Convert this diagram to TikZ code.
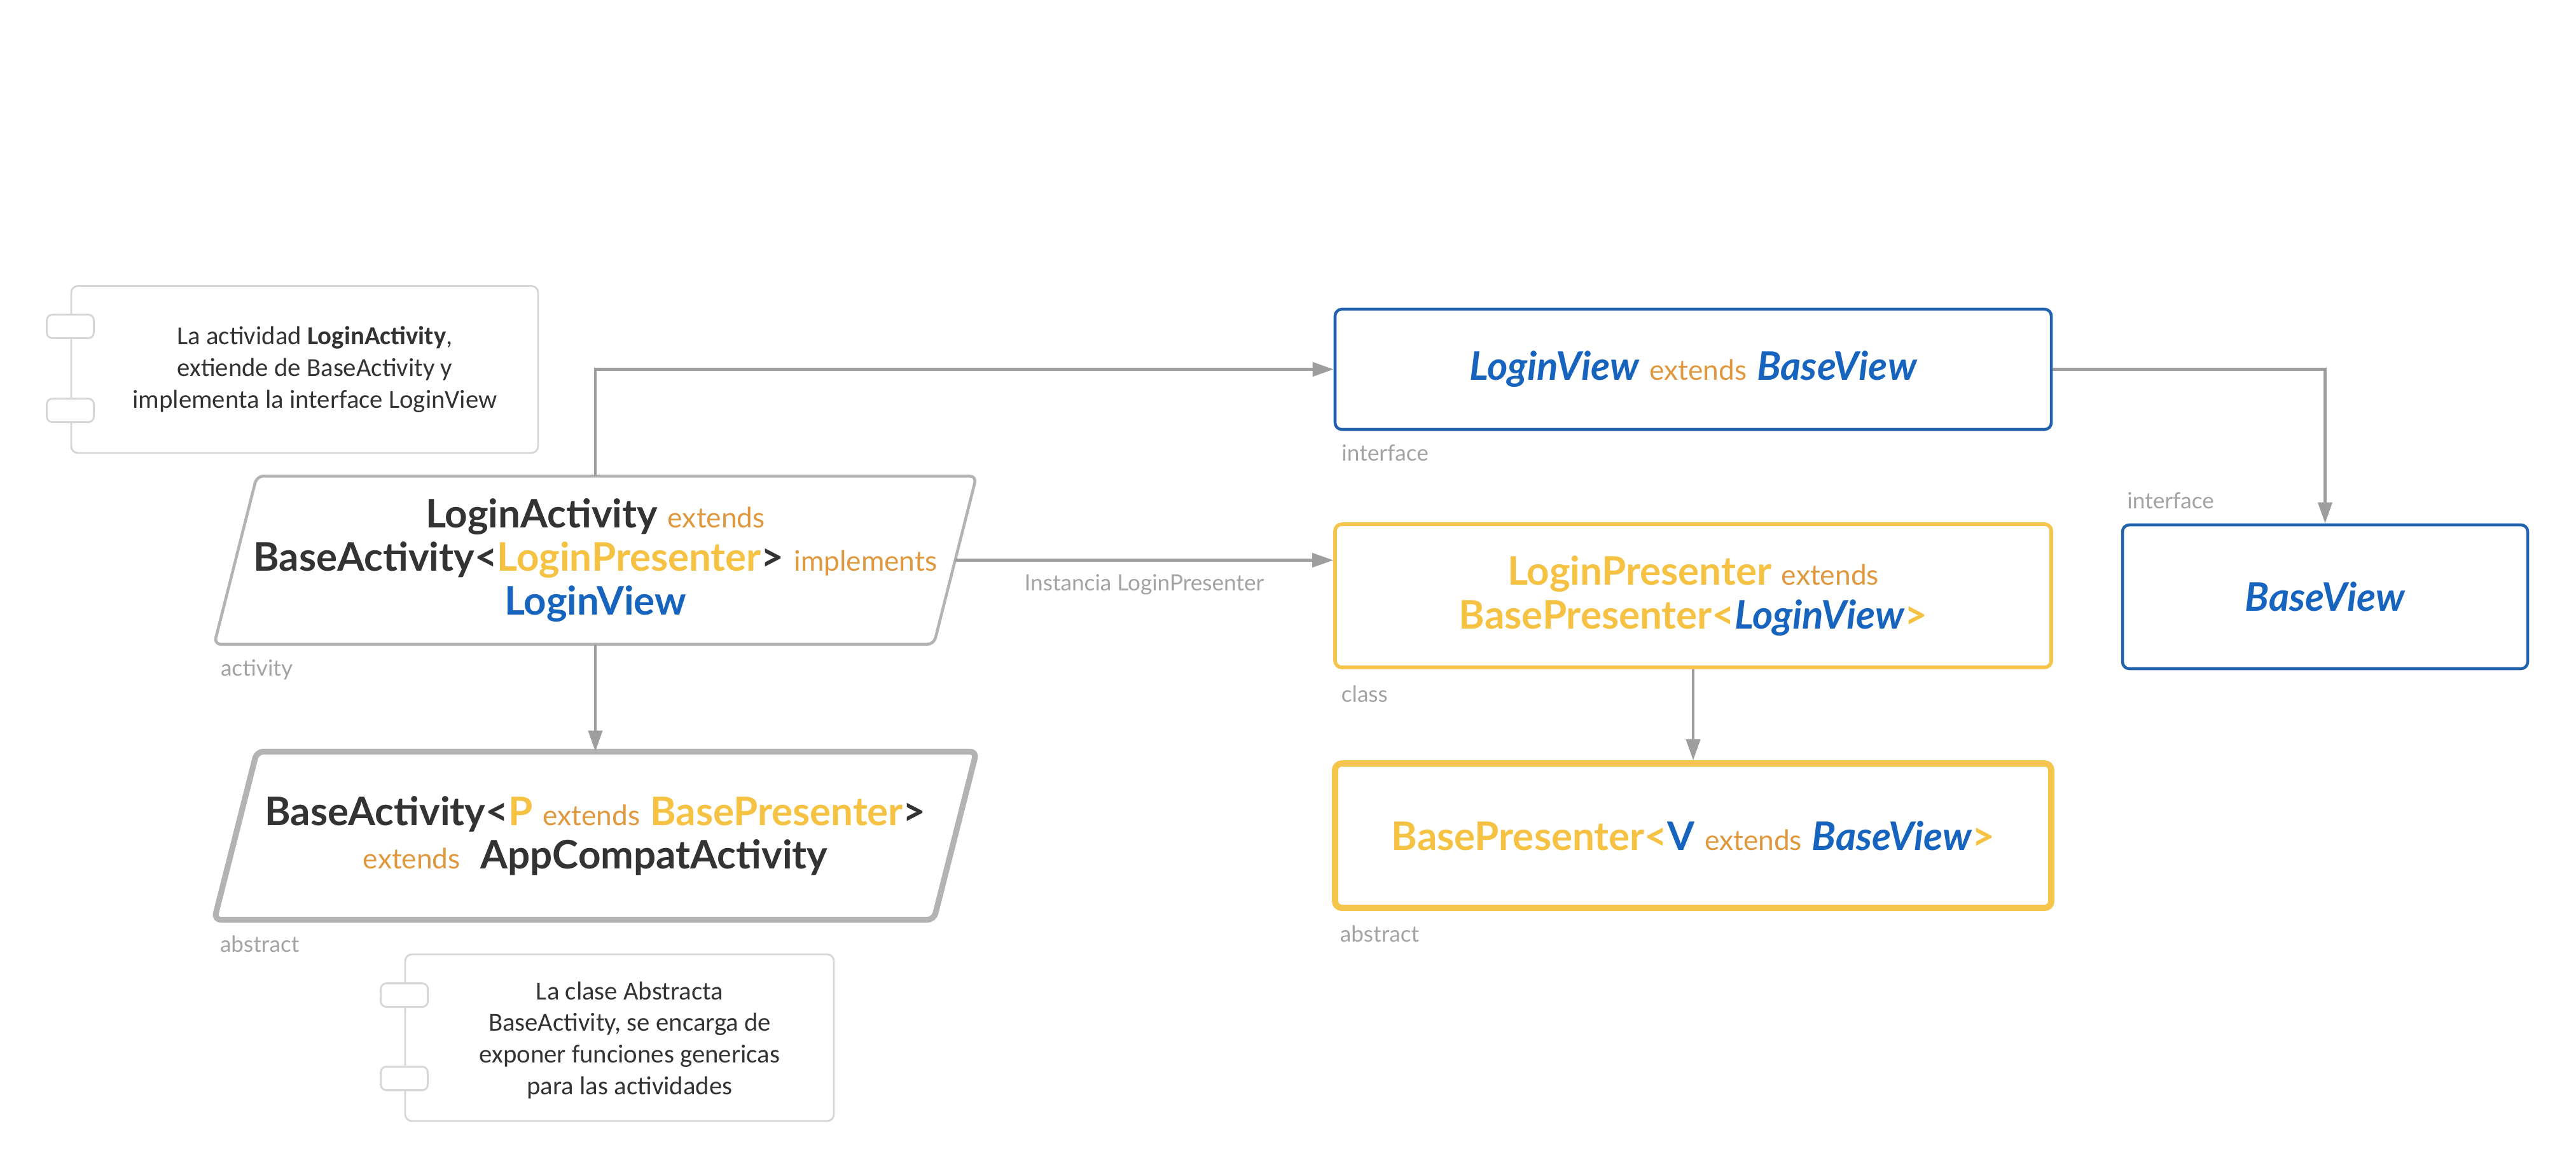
\documentclass[tikz,border=0pt]{standalone}
\usepackage{fontspec}
\setmainfont{Lato}
\newfontfamily\notefont{Carlito}
\usetikzlibrary{arrows.meta,positioning,calc}

\definecolor{txtdark}{HTML}{333333}
\definecolor{extorange}{HTML}{E0983E}
\definecolor{presyellow}{HTML}{F5C243}
\definecolor{viewblue}{HTML}{1764BE}
\definecolor{viewline}{HTML}{2062AD}
\definecolor{presline}{HTML}{F5C54C}
\definecolor{linegray}{HTML}{9E9E9E}
\definecolor{lblgray}{HTML}{A3A3A3}
\definecolor{paraline}{HTML}{B3B3B3}
\definecolor{noteline}{HTML}{D6D6D6}

\newcommand{\extw}[1]{{\color{extorange}\fontsize{12.6}{14}\selectfont #1}}
\newcommand{\darkw}[1]{{\color{txtdark}\bfseries #1}}
\newcommand{\presw}[1]{{\color{presyellow}\bfseries #1}}
\newcommand{\vieww}[1]{{\color{viewblue}\bfseries\itshape #1}}

\tikzset{
  bigtext/.style={font=\fontsize{17.6}{19.5}\selectfont, align=center, inner sep=0pt},
  paranode/.style={bigtext, minimum width=11.3cm, minimum height=2.63cm},
  actframe/.style={draw=paraline, line width=1.3pt, rounded corners=3pt},
  absframe/.style={draw=paraline, line width=2.6pt, rounded corners=3pt},
  viewbox/.style={bigtext, draw=viewline, line width=1.3pt, rounded corners=3pt},
  presbox/.style={bigtext, draw=presline, line width=1.6pt, rounded corners=3pt},
  basebox/.style={bigtext, draw=presline, line width=2.8pt, rounded corners=3pt},
  notebox/.style={draw=noteline, line width=0.8pt, rounded corners=3pt},
  notetab/.style={draw=noteline, fill=white, line width=0.8pt, rounded corners=2.5pt},
  notetext/.style={font=\notefont\fontsize{11.6}{14.2}\selectfont, text=txtdark, align=center},
  tag/.style={font=\fontsize{10}{11}\selectfont, text=lblgray, inner sep=0pt},
  conn/.style={draw=linegray, line width=1.2pt, -{Triangle[length=0.33cm,width=0.22cm]}},
}

\begin{document}
\begin{tikzpicture}
\useasboundingbox (0,0) rectangle (40.5,-18.38);

% notes
\node[notebox, minimum width=7.34cm, minimum height=2.625cm] (note1) at (4.79,-5.807) {};
\foreach \ty in {0.465,1.785}
  \draw[notetab] ([xshift=-0.37cm,yshift=-\ty cm]note1.north west) rectangle ++(0.74,-0.37);
\node[notetext] (note1txt) at ([xshift=0.16cm]note1.center)
  {La actividad \textbf{LoginActivity},\\ extiende de BaseActivity y\\ implementa la interface LoginView};

\node[notebox, minimum width=6.74cm, minimum height=2.62cm] (note2) at (9.74,-16.31) {};
\foreach \ty in {0.47,1.78}
  \draw[notetab] ([xshift=-0.37cm,yshift=-\ty cm]note2.north west) rectangle ++(0.74,-0.37);
\node[notetext] (note2txt) at ([xshift=0.16cm,yshift=-0.04cm]note2.center)
  {La clase Abstracta\\ BaseActivity, se encarga de\\ exponer funciones genericas\\ para las actividades};

% activities
\node[paranode] (act) at (9.36,-8.805)
  {\darkw{LoginActivity} \extw{extends}\\
   \darkw{BaseActivity<}\presw{LoginPresenter}\darkw{>} \extw{implements}\\
   {\color{viewblue}\bfseries LoginView}};
\draw[actframe] ([xshift=0.335cm]act.north west) -- ([xshift=0.335cm]act.north east)
  -- ([xshift=-0.335cm]act.south east) -- ([xshift=-0.335cm]act.south west) -- cycle;
\node[tag, anchor=west] (actlbl) at ([xshift=-0.24cm,yshift=-0.40cm]act.south west) {activity};

\node[paranode] (absact) at (9.36,-13.135)
  {\darkw{BaseActivity<}\presw{P} \extw{extends} \presw{BasePresenter}\darkw{>}\\
   \extw{extends}\ \ \darkw{AppCompatActivity}};
\draw[absframe] ([xshift=0.335cm]absact.north west) -- ([xshift=0.335cm]absact.north east)
  -- ([xshift=-0.335cm]absact.south east) -- ([xshift=-0.335cm]absact.south west) -- cycle;
\node[tag, anchor=west] (abslbl) at ([xshift=-0.25cm,yshift=-0.38cm]absact.south west) {abstract};

% views and presenters
\node[viewbox, minimum width=11.26cm, minimum height=1.89cm] (lview) at (26.62,-5.805)
  {\vieww{LoginView} \extw{extends} \vieww{BaseView}};
\node[tag, anchor=west] (lviewlbl) at ([xshift=0.12cm,yshift=-0.35cm]lview.south west) {interface};

\node[presbox, minimum width=11.26cm, minimum height=2.25cm] (lpres) at (26.62,-9.365)
  {\presw{LoginPresenter} \extw{extends}\\ \presw{BasePresenter<}\vieww{LoginView}\presw{>}};
\node[tag, anchor=west] (lpreslbl) at ([xshift=0.12cm,yshift=-0.39cm]lpres.south west) {class};

\node[basebox, minimum width=11.26cm, minimum height=2.27cm] (bpres) at (26.62,-13.135)
  {\presw{BasePresenter<}{\color{viewblue}\bfseries V} \extw{extends} \vieww{BaseView}\presw{>}};
\node[tag, anchor=west] (bpreslbl) at ([xshift=0.12cm,yshift=-0.36cm]bpres.south west) {abstract};

\node[viewbox, minimum width=6.37cm, minimum height=2.26cm] (bview) at (36.555,-9.38)
  {\vieww{BaseView}};
\node[tag, anchor=west] (bviewlbl) at ([xshift=0.09cm,yshift=0.36cm]bview.north west) {interface};

% connectors
\draw[conn] (act.north) |- (lview.west);
\draw[conn] (act.east) -- (act.east -| lpres.west)
  node[tag, midway, below=0.2cm] (instlbl) {Instancia LoginPresenter};
\draw[conn] (act.south) -- (absact.north);
\draw[conn] (lpres.south) -- (bpres.north);
\draw[conn] (lview.east) -| (bview.north);
\end{tikzpicture}
\end{document}
